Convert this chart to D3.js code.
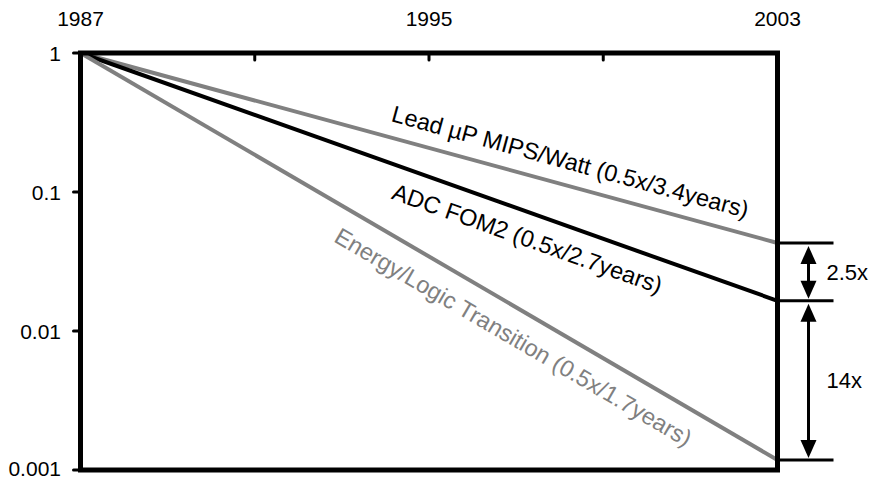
<!DOCTYPE html>
<html>
<head>
<meta charset="utf-8">
<script src="https://cdn.jsdelivr.net/npm/d3@7/dist/d3.min.js"></script>
<style>
  html, body { margin: 0; padding: 0; background: #fff; }
  svg { display: block; font-family: "Liberation Sans", Arial, sans-serif; }
</style>
</head>
<body>
<svg id="chart" width="878" height="480"></svg>
<script>
// Trend data: relative value, normalised to 1 in 1987
const yearSpan = [1987, 2003];
const tickYears = [1987, 1991, 1995, 1999, 2003];
const labeledYears = [1987, 1995, 2003];
const yTicks = [1, 0.1, 0.01, 0.001];
const yTickLabels = ["1", "0.1", "0.01", "0.001"];

const seriesNames = [
  "Lead \u00b5P MIPS/Watt (0.5x/3.4years)",
  "ADC FOM2 (0.5x/2.7years)",
  "Energy/Logic Transition (0.5x/1.7years)"
];
const seriesColors = ["#808080", "#000000", "#808080"];
const labelColors = ["#000000", "#000000", "#808080"];
const startValues = [1, 1, 1];
const endValues = [0.043, 0.0165, 0.00118];
// label placement: year at label centre, perpendicular offset (negative = above line)
const labelYears = [1998.1, 1997.45, 1997.25];
const labelOffsets = [-24, 25, 27];

const ratioLabels = ["2.5x", "14x"];

const svg = d3.select("#chart");
const x = d3.scaleLinear().domain(yearSpan).range([80.5, 777.5]);
const y = d3.scaleLog().domain([1, 0.001]).range([53, 470]);

// series lines
const line = d3.line().x(d => x(d[0])).y(d => y(d[1]));
seriesNames.forEach((name, i) => {
  const pts = [[yearSpan[0], startValues[i]], [yearSpan[1], endValues[i]]];
  svg.append("path")
    .attr("d", line(pts))
    .attr("fill", "none")
    .attr("stroke", seriesColors[i])
    .attr("stroke-width", 4);
});

// frame
svg.append("rect")
  .attr("x", x(yearSpan[0])).attr("y", y(1))
  .attr("width", x(yearSpan[1]) - x(yearSpan[0]))
  .attr("height", y(0.001) - y(1))
  .attr("fill", "none").attr("stroke", "#000").attr("stroke-width", 5);

// top axis ticks (pointing inward)
svg.append("g").selectAll("line").data(tickYears.slice(1, -1)).join("line")
  .attr("x1", d => x(d)).attr("x2", d => x(d))
  .attr("y1", y(1)).attr("y2", y(1) + 7)
  .attr("stroke", "#000").attr("stroke-width", 3).attr("stroke-linecap", "round");

svg.append("g").selectAll("text").data(labeledYears).join("text")
  .attr("x", d => x(d)).attr("y", 26)
  .attr("text-anchor", "middle")
  .attr("font-size", 21)
  .text(d => d);

// left axis ticks and labels
svg.append("g").selectAll("line").data(yTicks).join("line")
  .attr("x1", x(yearSpan[0]) - 7).attr("x2", x(yearSpan[0]))
  .attr("y1", d => y(d)).attr("y2", d => y(d))
  .attr("stroke", "#000").attr("stroke-width", 3).attr("stroke-linecap", "round");

svg.append("g").selectAll("text").data(yTicks).join("text")
  .attr("x", 61).attr("y", d => y(d))
  .attr("dy", (d, i) => i === yTicks.length - 1 ? "0.28em" : "0.36em")
  .attr("text-anchor", "end")
  .attr("font-size", 21)
  .text((d, i) => yTickLabels[i]);

// rotated series labels along each line
seriesNames.forEach((name, i) => {
  const x0 = x(yearSpan[0]), y0 = y(startValues[i]);
  const x1 = x(yearSpan[1]), y1 = y(endValues[i]);
  const ang = Math.atan2(y1 - y0, x1 - x0);
  const t = (labelYears[i] - yearSpan[0]) / (yearSpan[1] - yearSpan[0]);
  const cx = x0 + (x1 - x0) * t, cy = y0 + (y1 - y0) * t;
  const px = cx - Math.sin(ang) * labelOffsets[i];
  const py = cy + Math.cos(ang) * labelOffsets[i];
  svg.append("text")
    .attr("transform", `translate(${px},${py}) rotate(${ang * 180 / Math.PI})`)
    .attr("text-anchor", "middle")
    .attr("dy", "0.35em")
    .attr("font-size", 23.5)
    .attr("fill", labelColors[i])
    .text(name);
});

// ratio markers at the right edge
const endY = endValues.map(v => y(v));
const gx1 = x(yearSpan[1]), gx2 = gx1 + 56, ax = gx1 + 31;
svg.append("g").selectAll("line").data(endValues).join("line")
  .attr("x1", gx1).attr("x2", gx2)
  .attr("y1", d => y(d)).attr("y2", d => y(d))
  .attr("stroke", "#000").attr("stroke-width", 3);

function arrowHead(tipY, dir) {
  // dir = -1 points up, +1 points down
  const len = 18, half = 8;
  svg.append("path")
    .attr("d", `M${ax},${tipY} L${ax - half},${tipY - dir * len} L${ax + half},${tipY - dir * len} Z`)
    .attr("fill", "#000");
}

ratioLabels.forEach((lab, i) => {
  const top = endY[i] + 3, bot = endY[i + 1] - 2;
  svg.append("line")
    .attr("x1", ax).attr("x2", ax)
    .attr("y1", top + 10).attr("y2", bot - 10)
    .attr("stroke", "#000").attr("stroke-width", 3);
  arrowHead(top, -1);
  arrowHead(bot, 1);
  svg.append("text")
    .attr("x", ax + 18)
    .attr("y", (endY[i] + endY[i + 1]) / 2)
    .attr("dy", "0.36em")
    .attr("font-size", 22)
    .text(lab);
});
</script>
</body>
</html>
